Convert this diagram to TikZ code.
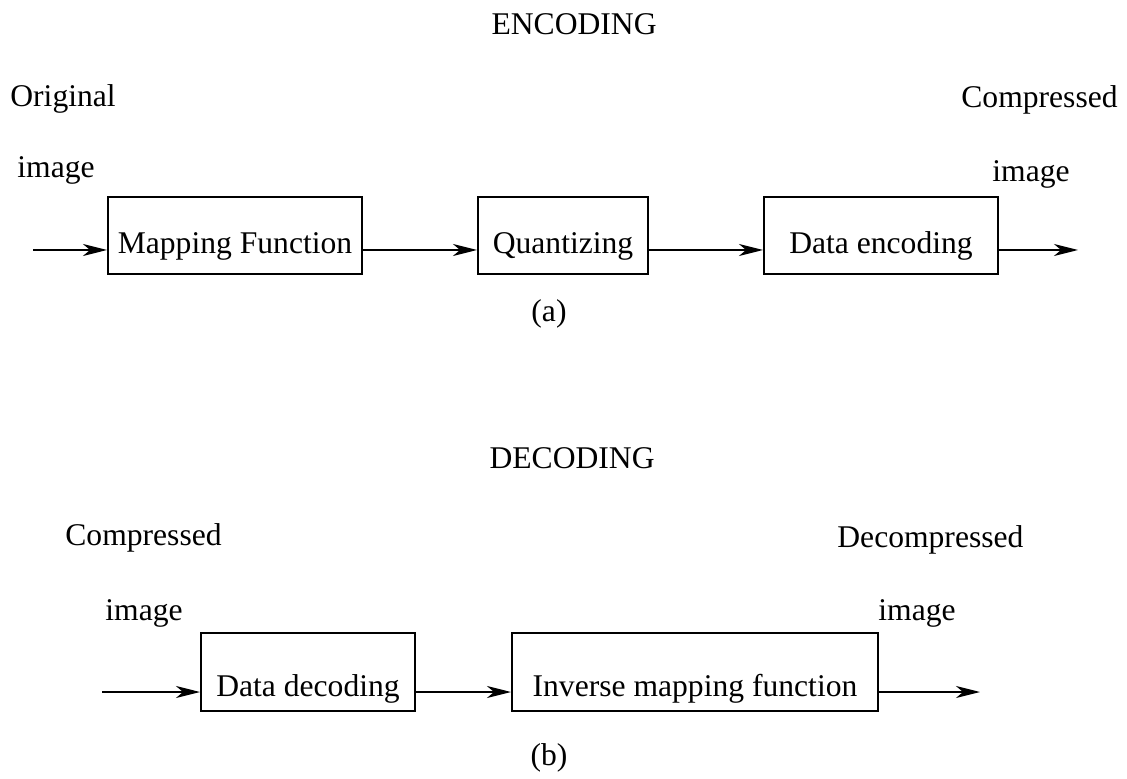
\documentclass[tikz,border=0pt]{standalone}
\usepackage{fontspec}
\setmainfont{Liberation Serif}
\usetikzlibrary{arrows.meta}
\begin{document}
\begin{tikzpicture}[x=0.5pt,y=-0.5pt,
  every node/.style={font=\fontsize{15.8}{19}\selectfont, inner sep=0pt},
  blockA/.style={draw, line width=1pt, text height=28.5pt, text depth=10pt, anchor=base},
  blockB/.style={draw, line width=1pt, text height=31.5pt, text depth=7.5pt, anchor=base},
  flow/.style={line width=1pt, -{Stealth[length=12pt,width=6pt,inset=3.5pt]}},
  lw/.style={anchor=base west},
  le/.style={anchor=base east},
  lc/.style={anchor=base}]
\useasboundingbox (0,0) rectangle (1127,779);
% encoding
\node[le] (enc) at (657,35) {ENCODING};
\node[lw] (orig) at (10,107) {Original};
\node[lw] (origimg) at (17,178) {image};
\node[le] (compA) at (1118,108) {Compressed};
\node[lw] (compAimg) at (992,182) {image};
\node[blockA, minimum width=127pt] (map) at (235,254) {Mapping Function};
\node[blockA, minimum width=85pt] (quant) at (563,254) {Quantizing};
\node[blockA, minimum width=117pt] (denc) at (881,254) {Data encoding};
\node[lc] (capa) at (549,322) {(a)};
\coordinate (inA) at (33,250);
\coordinate (outA) at (1078,250);
\draw[flow] (inA) -- (map.west |- inA);
\draw[flow] (map.east |- inA) -- (quant.west |- inA);
\draw[flow] (quant.east |- inA) -- (denc.west |- inA);
\draw[flow] (denc.east |- inA) -- (outA);
% decoding
\node[le] (dec) at (655,468) {DECODING};
\node[lw] (compB) at (65,545) {Compressed};
\node[lw] (compBimg) at (105,620) {image};
\node[lw] (decomp) at (837,547) {Decompressed};
\node[lw] (decompimg) at (878,620) {image};
\node[blockB, minimum width=107pt] (ddec) at (308,696) {Data decoding};
\node[blockB, minimum width=183pt] (inv) at (695,696) {Inverse mapping function};
\node[lc] (capb) at (549,765) {(b)};
\coordinate (inB) at (102,692);
\coordinate (outB) at (980,692);
\draw[flow] (inB) -- (ddec.west |- inB);
\draw[flow] (ddec.east |- inB) -- (inv.west |- inB);
\draw[flow] (inv.east |- inB) -- (outB);
\end{tikzpicture}
\end{document}
